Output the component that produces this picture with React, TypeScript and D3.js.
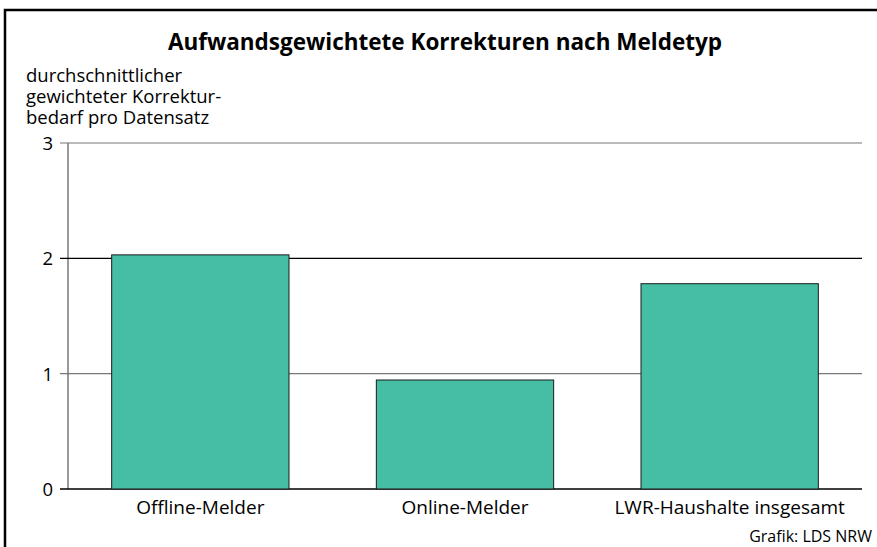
import { useMemo } from "react";
import * as d3 from "d3";

const categories = ["Offline-Melder", "Online-Melder", "LWR-Haushalte insgesamt"];
const values = [2.03, 0.945, 1.78];
const yTicks = [0, 1, 2, 3];
const yLabelLines = ["durchschnittlicher", "gewichteter Korrektur-", "bedarf pro Datensatz"];
const title = "Aufwandsgewichtete Korrekturen nach Meldetyp";
const credit = "Grafik: LDS NRW";

const W = 877;
const H = 547;
const M = { top: 143, right: 15, bottom: 58, left: 68 };
const FONT = "'Open Sans', 'DejaVu Sans', sans-serif";

export default function App() {
  const innerBottom = H - M.bottom;
  const x = useMemo(
    () =>
      d3
        .scaleBand<string>()
        .domain(categories)
        .range([M.left, W - M.right])
        .paddingInner(0.33)
        .paddingOuter(0.165),
    []
  );
  const y = useMemo(() => d3.scaleLinear().domain([0, 3]).range([innerBottom, M.top]), [innerBottom]);

  return (
    <div style={{ position: "fixed", left: 0, top: 0 }}>
      <svg width={W} height={H} style={{ display: "block", fontFamily: FONT }}>
        <rect x={0} y={0} width={W} height={H} fill="#fff" />
        {/* frame, runs off the right and bottom edge */}
        <rect x={5} y={10} width={W + 10} height={H + 10} fill="none" stroke="#000" strokeWidth={2.5} />

        <text x={445} y={50} textAnchor="middle" fontSize={22.5} fontWeight={700} fill="#000">
          {title}
        </text>

        {yLabelLines.map((l, i) => (
          <text key={i} x={26} y={82 + i * 21} fontSize={18.5} fill="#000">
            {l}
          </text>
        ))}

        {/* y axis line */}
        <line x1={M.left} x2={M.left} y1={y(3)} y2={y(0)} stroke="#777" strokeWidth={1.5} />

        {yTicks.map((t) => (
          <g key={t}>
            <line
              x1={M.left - 8}
              x2={W - M.right}
              y1={y(t)}
              y2={y(t)}
              stroke={t === 2 || t === 0 ? "#000" : "#777"}
              strokeWidth={t === 0 ? 1.5 : 1.2}
            />
            <text x={53} y={y(t) + 7} textAnchor="end" fontSize={18.5} fill="#000">
              {t}
            </text>
          </g>
        ))}

        {categories.map((c, i) => (
          <rect
            key={c}
            x={x(c)}
            y={y(values[i])}
            width={x.bandwidth()}
            height={y(0) - y(values[i])}
            fill="#46BEA5"
            stroke="#1a1a1a"
            strokeWidth={1}
          />
        ))}

        {categories.map((c) => (
          <text
            key={c}
            x={(x(c) ?? 0) + x.bandwidth() / 2}
            y={y(0) + 25}
            textAnchor="middle"
            fontSize={19}
            fill="#000"
          >
            {c}
          </text>
        ))}

        <text x={872} y={542} textAnchor="end" fontSize={16} fill="#000">
          {credit}
        </text>
      </svg>
    </div>
  );
}
